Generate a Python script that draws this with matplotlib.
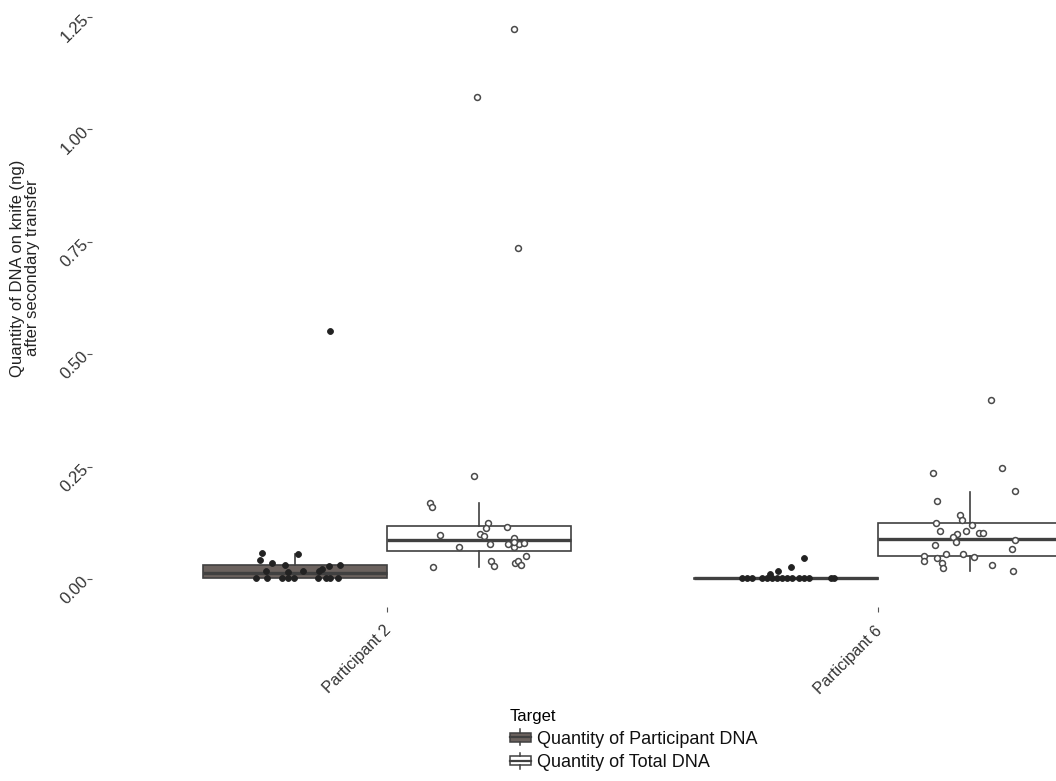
import matplotlib
matplotlib.use('Agg')
import matplotlib.pyplot as plt
from matplotlib.patches import Rectangle, Patch
from matplotlib.lines import Line2D
from matplotlib.legend_handler import HandlerBase
from matplotlib.transforms import ScaledTranslation

plt.rcParams['font.family'] = ['Liberation Sans', 'DejaVu Sans']

participants = ['Participant 2', 'Participant 6']
targets = ['Quantity of Participant DNA', 'Quantity of Total DNA']

# boxplot summaries in ng: whisker low, q1, median, q3, whisker high
p2_part_box = [0.000, 0.004, 0.014, 0.031, 0.056]
p2_total_box = [0.027, 0.062, 0.087, 0.118, 0.170]
p6_part_box = [0.000, 0.001, 0.003, 0.004, 0.005]
p6_total_box = [0.018, 0.053, 0.090, 0.125, 0.194]

# individual knives (ng) and their jitter offsets
p2_part_y = [0.058, 0.042, 0.036, 0.033, 0.056, 0.018, 0.016, 0.018, 0.018, 0.024, 0.029,
             0.031, 0.002, 0.004, 0.002, 0.002, 0.002, 0.002, 0.002, 0.002, 0.002, 0.553]
p2_part_dx = [-0.068, -0.072, -0.046, -0.021, 0.007, -0.058, -0.015, 0.017, 0.048, 0.056, 0.070,
              0.091, -0.080, -0.056, -0.027, -0.015, -0.001, 0.046, 0.064, 0.072, 0.087, 0.072]

p2_total_y = [0.230, 0.170, 0.161, 0.098, 0.072, 0.027, 0.125, 0.114, 0.116, 0.101, 0.096,
              0.079, 0.092, 0.079, 0.073, 0.079, 0.081, 0.083, 0.051, 0.040, 0.029, 0.036,
              0.040, 0.033, 1.224, 1.073, 0.736]
p2_total_dx = [-0.011, -0.099, -0.095, -0.080, -0.040, -0.093, 0.018, 0.014, 0.057, 0.002, 0.011,
               0.023, 0.071, 0.059, 0.071, 0.081, 0.091, 0.072, 0.095, 0.025, 0.030, 0.073,
               0.080, 0.086, 0.072, -0.005, 0.080]

p6_part_y = [0.047, 0.027, 0.019, 0.011, 0.002, 0.002, 0.002, 0.002, 0.002, 0.002, 0.002,
             0.002, 0.002, 0.002, 0.002, 0.002, 0.002, 0.002, 0.002]
p6_part_dx = [0.036, 0.011, -0.016, -0.032, -0.089, -0.079, -0.069, -0.048, -0.038, -0.028, -0.018,
              -0.008, 0.002, 0.013, 0.026, 0.036, 0.046, 0.091, 0.098]

p6_total_y = [0.399, 0.237, 0.247, 0.196, 0.174, 0.142, 0.131, 0.126, 0.107, 0.107, 0.120,
              0.104, 0.104, 0.100, 0.094, 0.084, 0.077, 0.087, 0.068, 0.053, 0.040, 0.048,
              0.056, 0.056, 0.050, 0.037, 0.025, 0.031, 0.019]
p6_total_dx = [0.043, -0.076, 0.065, 0.091, -0.067, -0.020, -0.017, -0.070, -0.061, -0.008, 0.003,
               0.018, 0.027, -0.027, -0.034, -0.028, -0.072, 0.091, 0.086, -0.093, -0.094, -0.068,
               -0.050, -0.015, 0.007, -0.057, -0.055, 0.045, 0.087]

part_fill = '#6b625e'
total_fill = '#ffffff'
line_col = '#404040'
text_col = '#333333'

dodge = 0.1875
box_w = 0.375


def box_dict(s):
    return dict(whislo=s[0], q1=s[1], med=s[2], q3=s[3], whishi=s[4], fliers=[])


class BoxKeyHandler(HandlerBase):
    # small boxplot glyph for the legend keys
    def create_artists(self, legend, orig_handle, xdescent, ydescent,
                       width, height, fontsize, trans):
        x0, y0 = -xdescent, -ydescent
        box = Rectangle((x0, y0 + 0.18 * height), width, 0.64 * height,
                        facecolor=orig_handle.get_facecolor(), edgecolor=line_col,
                        lw=1.1, transform=trans)
        cx = x0 + width / 2
        lo = Line2D([cx, cx], [y0 - 0.08 * height, y0 + 0.18 * height], color=line_col, lw=1.1, transform=trans)
        hi = Line2D([cx, cx], [y0 + 0.82 * height, y0 + 1.08 * height], color=line_col, lw=1.1, transform=trans)
        med = Line2D([x0, x0 + width], [y0 + 0.5 * height] * 2, color=line_col, lw=1.6, transform=trans)
        return [box, lo, hi, med]


fig = plt.figure(figsize=(10.56, 7.81), dpi=100)
ax = fig.add_axes([0.0875, 0.2229, 0.9125, 0.7758])

groups = [
    (1, -dodge, p2_part_box, p2_part_y, p2_part_dx, part_fill),
    (1, dodge, p2_total_box, p2_total_y, p2_total_dx, total_fill),
    (2, -dodge, p6_part_box, p6_part_y, p6_part_dx, part_fill),
    (2, dodge, p6_total_box, p6_total_y, p6_total_dx, total_fill),
]

for xc, off, stats, ys, dxs, fill in groups:
    pos = xc + off
    ax.bxp([box_dict(stats)], positions=[pos], widths=box_w, patch_artist=True,
           showcaps=False, showfliers=False,
           boxprops=dict(facecolor=fill, edgecolor=line_col, lw=1.2),
           whiskerprops=dict(color=line_col, lw=1.2),
           medianprops=dict(color=line_col, lw=2.4, solid_capstyle='butt'),
           zorder=2)
    xs = [pos + d for d in dxs]
    if fill == part_fill:
        ax.scatter(xs, ys, s=18, color='#222222', edgecolor='#222222', lw=0.6, zorder=3)
    else:
        ax.scatter(xs, ys, s=18, facecolor='white', edgecolor='#4a4a4a', lw=1.1, zorder=3)

ax.set_xlim(0.4, 2.3625)
ax.set_ylim(-0.0612, 1.2852)
ax.set_xticks([1, 2])
ax.set_xticklabels(participants, rotation=45, ha='right', va='top',
                   rotation_mode='anchor', fontsize=11.5, color=text_col)
yt = [0, 0.25, 0.5, 0.75, 1.0, 1.25]
ax.set_yticks(yt)
ax.set_yticklabels(['%.2f' % v for v in yt], rotation=45, ha='right', va='center',
                   rotation_mode='anchor', fontsize=12, color=text_col)
ax.tick_params(axis='both', length=3.5, width=0.8, color='#555555')
ax.tick_params(axis='y', pad=1)
ax.tick_params(axis='x', pad=8)
shift = ScaledTranslation(-4 / 100, 0, fig.dpi_scale_trans)
for lab in ax.get_xticklabels():
    lab.set_transform(lab.get_transform() + shift)
for sp in ax.spines.values():
    sp.set_visible(False)

fig.text(25 / 1056, 1 - 268 / 781, 'Quantity of DNA on knife (ng)\nafter secondary transfer',
         rotation=90, ha='center', va='center', fontsize=12, color='#222222', linespacing=0.95)

handles = [Patch(facecolor=part_fill, edgecolor=line_col),
           Patch(facecolor=total_fill, edgecolor=line_col)]
leg = fig.legend(handles, targets, title='Target', loc='upper left',
                 bbox_to_anchor=(510 / 1056, 1 - 709 / 781), frameon=False,
                 handler_map={Patch: BoxKeyHandler()}, fontsize=13, title_fontsize=12,
                 handlelength=1.15, handleheight=0.8, handletextpad=0.35,
                 labelspacing=0.35, borderpad=0, borderaxespad=0, alignment='left')
for t in leg.get_texts():
    t.set_color('#111111')

fig.savefig('out.png', dpi=100)
